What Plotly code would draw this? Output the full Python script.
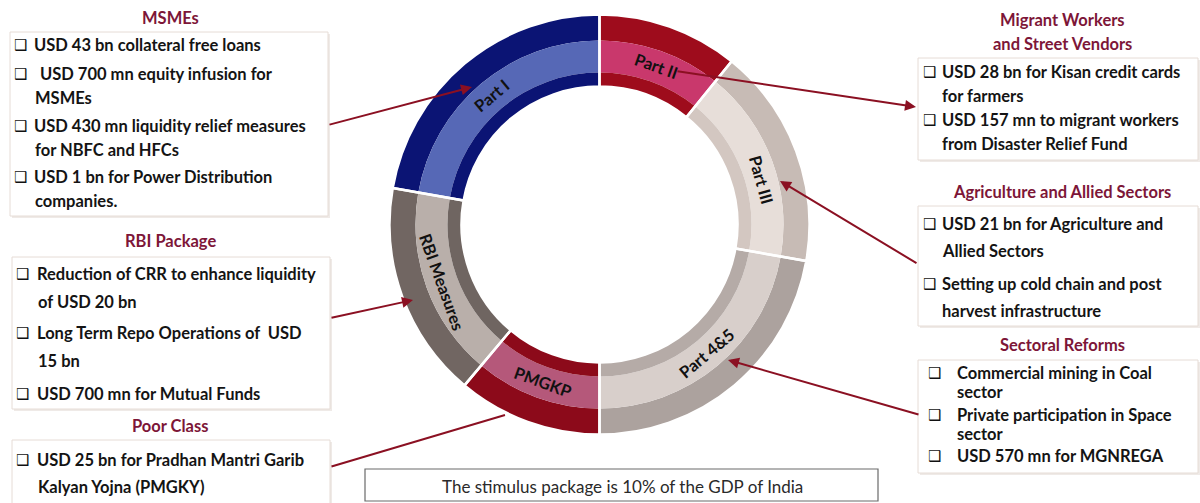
import math
import plotly.graph_objects as go

# ---------------- data ----------------
segments = ["Part II", "Part III", "Part 4&5", "PMGKP", "RBI Measures", "Part I"]
shares = [39, 61, 80, 40, 60, 80]          # share of the ring (degrees of 360)
outer_colors = ["#9e0c1c", "#c7bbb5", "#aca29e", "#8c0a1a", "#716662", "#0b1474"]
middle_colors = ["#c9386c", "#e7ded9", "#d8cfcb", "#b5587a", "#b9afaa", "#5668b6"]
inner_colors = ["#9e0c1c", "#d3c7c1", "#b5aba7", "#8c0a1a", "#6f6561", "#0b1474"]
label_angle_shift = [0, 5, 0, 0, 0, 0]

box_titles = [
    ("MSMEs", 170, 18),
    ("RBI Package", 170, 241),
    ("Poor Class", 170, 426),
    ("Migrant Workers", 1062, 20),
    ("and Street Vendors", 1062, 44),
    ("Agriculture and Allied Sectors", 1062, 192),
    ("Sectoral Reforms", 1062, 345),
]

boxes = [  # x0, y0, x1, y1
    (10, 32, 328, 216),
    (12, 257, 330, 409),
    (12, 440, 330, 506),
    (918, 58, 1198, 160),
    (918, 206, 1198, 326),
    (918, 360, 1198, 473),
]

# (text, y, bullet?, bullet_x, text_x)
box_lines = [
    ("USD 43 bn collateral free loans", 45, True, 20, 32),
    ("USD 700 mn equity infusion for", 74, True, 20, 38),
    ("MSMEs", 98, False, 20, 33),
    ("USD 430 mn liquidity relief measures", 126, True, 20, 32),
    ("for NBFC and HFCs", 150, False, 20, 33),
    ("USD 1 bn for Power Distribution", 177, True, 20, 32),
    ("companies.", 201, False, 20, 33),
    ("Reduction of CRR to enhance liquidity", 274, True, 22, 35),
    ("of USD 20 bn", 302, False, 22, 36),
    ("Long Term Repo Operations of  USD", 333, True, 22, 35),
    ("15 bn", 361, False, 22, 36),
    ("USD 700 mn for Mutual Funds", 394, True, 22, 35),
    ("USD 25 bn for Pradhan Mantri Garib", 460, True, 22, 35),
    ("Kalyan Yojna (PMGKY)", 487, False, 22, 36),
    ("USD 28 bn for Kisan credit cards", 72, True, 929, 940),
    ("for farmers", 96, False, 929, 940),
    ("USD 157 mn to migrant workers", 120, True, 929, 940),
    ("from Disaster Relief Fund", 144, False, 929, 940),
    ("USD 21 bn for Agriculture and", 224, True, 929, 940),
    ("Allied Sectors", 251, False, 929, 940),
    ("Setting up cold chain and post", 284, True, 929, 940),
    ("harvest infrastructure", 311, False, 929, 940),
    ("Commercial mining in Coal", 373, True, 934, 955),
    ("sector", 392, False, 934, 955),
    ("Private participation in Space", 415, True, 934, 955),
    ("sector", 434, False, 934, 955),
    ("USD 570 mn for MGNREGA", 456, True, 934, 955),
]

# arrows: head (x, y), tail (x, y), has head
arrows = [
    ((472, 87), (328, 125), True),
    ((916, 107), (676, 71), True),
    ((780, 181), (918, 264), True),
    ((728, 360), (920, 415), True),
    ((413, 300), (330, 318), True),
    ((505, 415), (330, 467), False),
]

footer_text = "The stimulus package is 10% of the GDP of India"

# ---------------- geometry ----------------
W, H = 1200, 503
CX, CY = 599.5, 224.5
R_OUT, R_MID, R_IN, R_HOLE = 210, 184, 152, 138


def domain(r):
    return dict(x=[(CX - r) / W, (CX + r) / W],
                y=[(H - CY - r) / H, (H - CY + r) / H])


fig = go.Figure()

for r, hole, cols in [(R_OUT, R_MID / R_OUT, outer_colors),
                      (R_MID, R_IN / R_MID, middle_colors),
                      (R_IN, R_HOLE / R_IN, inner_colors)]:
    fig.add_trace(go.Pie(labels=segments, values=shares, sort=False,
                         direction="clockwise", rotation=0, hole=hole,
                         domain=domain(r), textinfo="none", hoverinfo="label",
                         marker=dict(colors=cols, line=dict(width=0)),
                         showlegend=False))

# separator overlay
fig.add_trace(go.Pie(labels=segments, values=shares, sort=False,
                     direction="clockwise", rotation=0, hole=R_HOLE / R_OUT,
                     domain=domain(R_OUT), textinfo="none", hoverinfo="skip",
                     marker=dict(colors=["rgba(0,0,0,0)"] * len(segments),
                                 line=dict(width=2.5, color="white")),
                     showlegend=False))

annotations = []
shapes = []

# ring labels
cum = 0
r_lab = (R_MID + R_IN) / 2
for seg, val, sh in zip(segments, shares, label_angle_shift):
    th = cum + val / 2 + sh
    cum += val
    rad = math.radians(th)
    x = CX + r_lab * math.sin(rad)
    y = CY - r_lab * math.cos(rad)
    if 90 < th < 270:
        ang = th - 180
    else:
        ang = th if th <= 180 else th - 360
    annotations.append(dict(x=x, y=y, xref="x", yref="y", text="<b>%s</b>" % seg,
                            showarrow=False, textangle=ang,
                            font=dict(family="Lato", size=16.5, color="#111111")))

# boxes with shadow
for (x0, y0, x1, y1) in boxes:
    shapes.append(dict(type="rect", x0=x0 + 2, y0=y0 + 2, x1=x1 + 2, y1=y1 + 2,
                       xref="x", yref="y", fillcolor="#efeae7", line=dict(width=0),
                       layer="below"))
    shapes.append(dict(type="rect", x0=x0, y0=y0, x1=x1, y1=y1, xref="x", yref="y",
                       fillcolor="white", line=dict(color="#e6dcd6", width=1),
                       layer="below"))

# footer box
shapes.append(dict(type="rect", x0=365, y0=469, x1=878, y1=501, xref="x", yref="y",
                   fillcolor="white", line=dict(color="#6a6a6a", width=1.2),
                   layer="below"))
annotations.append(dict(x=622, y=486, xref="x", yref="y", text=footer_text,
                        showarrow=False, font=dict(family="Lato", size=17, color="#2a2a2a")))

for t, x, y in box_titles:
    annotations.append(dict(x=x, y=y, xref="x", yref="y", text="<b>%s</b>" % t,
                            showarrow=False,
                            font=dict(family="Lato", size=16.5, color="#7d1638")))

for text, y, bullet, bx, tx in box_lines:
    if bullet:
        annotations.append(dict(x=bx, y=y, xref="x", yref="y", text="❑",
                                showarrow=False, xanchor="center",
                                font=dict(family="DejaVu Sans", size=15, color="#111111")))
    annotations.append(dict(x=tx, y=y, xref="x", yref="y", text="<b>%s</b>" % text,
                            showarrow=False, xanchor="left",
                            font=dict(family="Lato", size=16.5, color="#141414")))

for (hx, hy), (tx, ty), head in arrows:
    annotations.append(dict(x=hx, y=hy, ax=tx, ay=ty, xref="x", yref="y",
                            axref="x", ayref="y", text="", showarrow=True,
                            arrowhead=2 if head else 0, arrowsize=1.1,
                            arrowwidth=2, arrowcolor="#8b1022", standoff=0))

fig.update_layout(
    width=W, height=H,
    margin=dict(l=0, r=0, t=0, b=0),
    paper_bgcolor="white", plot_bgcolor="rgba(0,0,0,0)",
    xaxis=dict(range=[0, W], visible=False, fixedrange=True),
    yaxis=dict(range=[H, 0], visible=False, fixedrange=True),
    shapes=shapes, annotations=annotations,
    showlegend=False,
)

fig.write_html("out.html", config={"displayModeBar": False},
               post_script="document.body.style.margin='0';document.body.style.overflow='hidden';")
